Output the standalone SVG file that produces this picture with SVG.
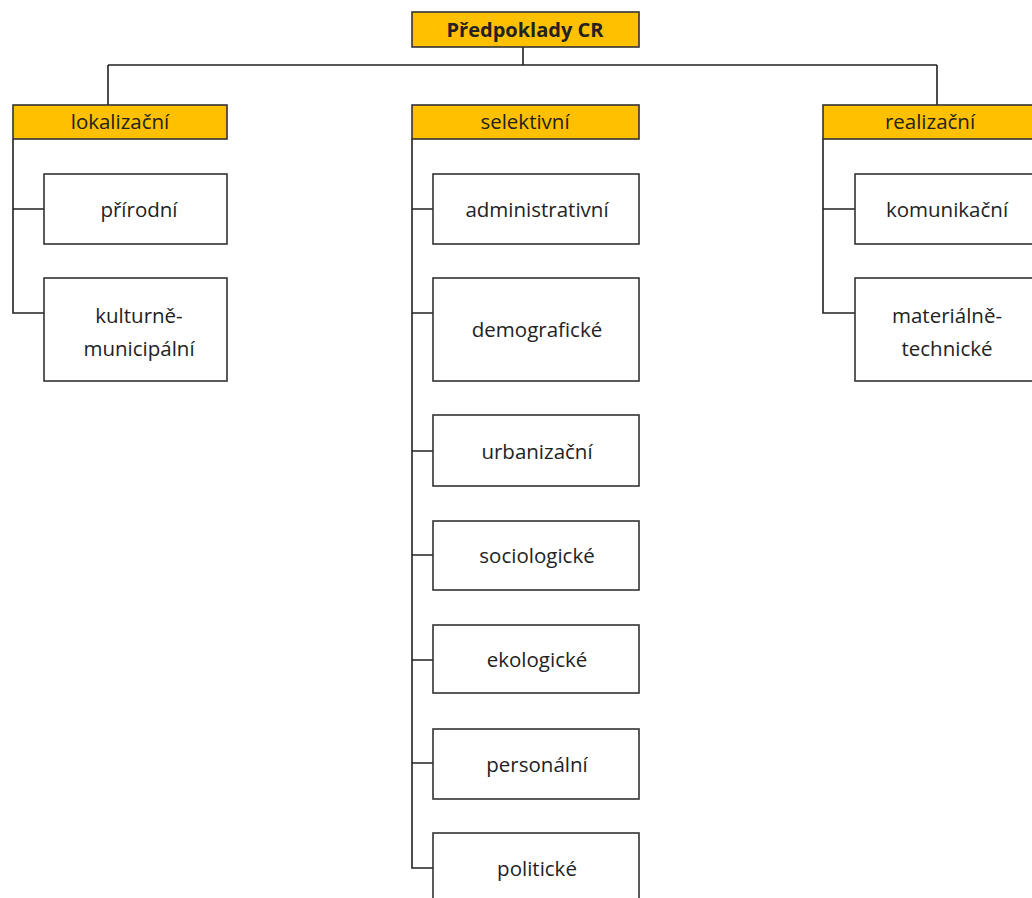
<svg xmlns="http://www.w3.org/2000/svg" width="1032" height="898" viewBox="0 0 1032 898">
<style>
.hdr{fill:#ffc000;stroke:#333;stroke-width:1.6}
.box{fill:#fff;stroke:#333;stroke-width:1.6}
.t{font-family:"Open Sans","Noto Sans","Liberation Sans",sans-serif;font-size:20.5px;fill:#222;text-anchor:middle}
.b{font-weight:bold;font-size:20px}
.c{fill:none;stroke:#222;stroke-width:1.6}
</style>
<rect width="1032" height="898" fill="#fff"/>
<g id="connectors">
<path class="c" d="M523,47V65M108,65H937M108,65V105M937,65V105"/>
<path class="c" d="M13,139V313H44M13,209H44"/>
<path class="c" d="M412,139V868H433M412,209H433M412,313H433M412,451H433M412,555H433M412,660H433M412,763H433"/>
<path class="c" d="M823,139V313H855M823,209H855"/>
</g>
<g id="root"><rect class="hdr" x="412" y="12" width="227" height="35"/><text class="t b" x="525" y="37">Předpoklady CR</text></g>
<g id="lokalizacni"><rect class="hdr" x="13" y="105" width="214" height="34"/><text class="t" x="120" y="129">lokalizační</text></g>
<g id="selektivni"><rect class="hdr" x="412" y="105" width="227" height="34"/><text class="t" x="525" y="129">selektivní</text></g>
<g id="realizacni"><rect class="hdr" x="823" y="105" width="220" height="34"/><text class="t" x="930" y="129">realizační</text></g>
<g id="prirodni"><rect class="box" x="44" y="174" width="183" height="70"/><text class="t" x="139" y="217">přírodní</text></g>
<g id="kulturne"><rect class="box" x="44" y="278" width="183" height="103"/><text class="t" x="139" y="323">kulturně-</text><text class="t" x="139" y="356">municipální</text></g>
<g id="administrativni"><rect class="box" x="433" y="174" width="206" height="70"/><text class="t" x="537" y="217">administrativní</text></g>
<g id="demograficke"><rect class="box" x="433" y="278" width="206" height="103"/><text class="t" x="537" y="337">demografické</text></g>
<g id="urbanizacni"><rect class="box" x="433" y="415" width="206" height="71"/><text class="t" x="537" y="459">urbanizační</text></g>
<g id="sociologicke"><rect class="box" x="433" y="521" width="206" height="69"/><text class="t" x="537" y="563">sociologické</text></g>
<g id="ekologicke"><rect class="box" x="433" y="625" width="206" height="68"/><text class="t" x="537" y="667">ekologické</text></g>
<g id="personalni"><rect class="box" x="433" y="729" width="206" height="70"/><text class="t" x="537" y="772">personální</text></g>
<g id="politicke"><rect class="box" x="433" y="833" width="206" height="80"/><text class="t" x="537" y="876">politické</text></g>
<g id="komunikacni"><rect class="box" x="855" y="174" width="190" height="70"/><text class="t" x="947" y="217">komunikační</text></g>
<g id="materialne"><rect class="box" x="855" y="278" width="190" height="103"/><text class="t" x="947" y="323">materiálně-</text><text class="t" x="947" y="356">technické</text></g>
</svg>
